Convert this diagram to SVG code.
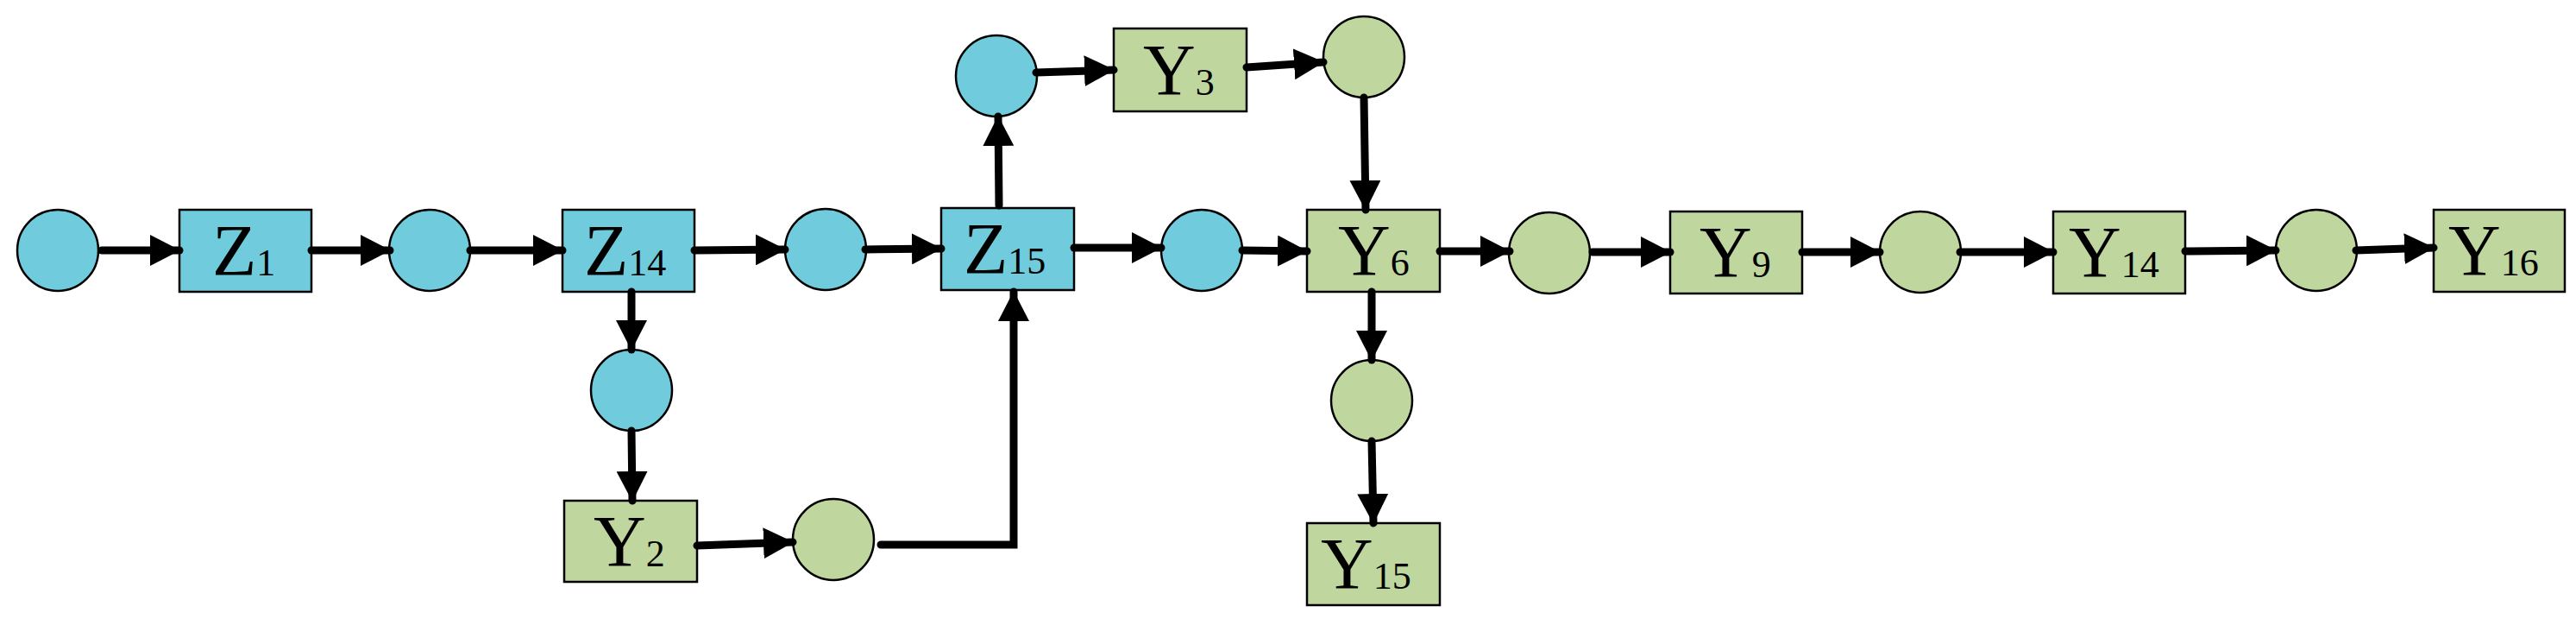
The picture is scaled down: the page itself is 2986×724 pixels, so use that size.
<svg xmlns="http://www.w3.org/2000/svg" width="2986" height="724" viewBox="0 0 2986 724">
<style>
.b{fill:#70CCDC;stroke:#000;stroke-width:2.5}
.g{fill:#BFD79E;stroke:#000;stroke-width:2.5}
.t{font-family:"Liberation Serif",serif;font-size:84px;fill:#000}
.s{font-size:44px}
.c line,.c polyline{stroke:#000;stroke-width:9;fill:none;stroke-linecap:round;marker-end:url(#a)}
</style>
<defs><marker id="a" markerUnits="userSpaceOnUse" markerWidth="36" markerHeight="36" refX="34" refY="18" orient="auto"><path d="M0,0L35,18L0,36Z" fill="#000"/></marker></defs>
<g id="n1"><circle class="b" cx="67" cy="290" r="47"/></g>
<g id="Z1"><rect class="b" x="208" y="243" width="153" height="95"/><text class="t" x="246" y="319">Z<tspan class="s">1</tspan></text></g>
<g id="n2"><circle class="b" cx="498" cy="290" r="47"/></g>
<g id="Z14"><rect class="b" x="652" y="243" width="153" height="95"/><text class="t" x="677" y="319">Z<tspan class="s">14</tspan></text></g>
<g id="n3"><circle class="b" cx="957" cy="289" r="47"/></g>
<g id="Z15"><rect class="b" x="1091" y="241" width="154" height="95"/><text class="t" x="1117" y="317">Z<tspan class="s">15</tspan></text></g>
<g id="n4"><circle class="b" cx="1393" cy="290" r="47"/></g>
<g id="n5"><circle class="b" cx="1155" cy="88" r="47"/></g>
<g id="Y3"><rect class="g" x="1291" y="33" width="154" height="96"/><text class="t" x="1325" y="110">Y<tspan class="s">3</tspan></text></g>
<g id="n6"><circle class="b" cx="732" cy="452" r="47"/></g>
<g id="Y2"><rect class="g" x="654" y="580" width="154" height="94"/><text class="t" x="688" y="656">Y<tspan class="s">2</tspan></text></g>
<g id="n7"><circle class="g" cx="966" cy="625" r="47"/></g>
<g id="n8"><circle class="g" cx="1581" cy="66" r="47"/></g>
<g id="Y6"><rect class="g" x="1515" y="243" width="154" height="95"/><text class="t" x="1551" y="319">Y<tspan class="s">6</tspan></text></g>
<g id="n9"><circle class="g" cx="1796" cy="293" r="47"/></g>
<g id="Y9"><rect class="g" x="1936" y="245" width="153" height="95"/><text class="t" x="1970" y="321">Y<tspan class="s">9</tspan></text></g>
<g id="n10"><circle class="g" cx="2226" cy="292" r="47"/></g>
<g id="Y14"><rect class="g" x="2380" y="245" width="153" height="95"/><text class="t" x="2398" y="321">Y<tspan class="s">14</tspan></text></g>
<g id="n11"><circle class="g" cx="2685" cy="290" r="47"/></g>
<g id="Y16"><rect class="g" x="2821" y="243" width="152" height="95"/><text class="t" x="2838" y="319">Y<tspan class="s">16</tspan></text></g>
<g id="n12"><circle class="g" cx="1590" cy="464" r="47"/></g>
<g id="Y15"><rect class="g" x="1515" y="606" width="154" height="95"/><text class="t" x="1531" y="682">Y<tspan class="s">15</tspan></text></g>
<g id="connectors" class="c">
<line x1="118" y1="290" x2="208" y2="290"/>
<line x1="361" y1="290" x2="452" y2="290"/>
<line x1="545" y1="290" x2="652" y2="290"/>
<line x1="805" y1="290" x2="910" y2="289"/>
<line x1="1003" y1="289" x2="1091" y2="288"/>
<line x1="1245" y1="287" x2="1346" y2="287"/>
<line x1="1440" y1="290" x2="1515" y2="291"/>
<line x1="1158" y1="238" x2="1157" y2="135"/>
<line x1="1201" y1="84" x2="1291" y2="81"/>
<line x1="1445" y1="78" x2="1534" y2="72"/>
<line x1="1581" y1="113" x2="1583" y2="243"/>
<line x1="1669" y1="291" x2="1750" y2="291"/>
<line x1="1846" y1="292" x2="1936" y2="292"/>
<line x1="2089" y1="292" x2="2179" y2="292"/>
<line x1="2272" y1="292" x2="2380" y2="292"/>
<line x1="2533" y1="291" x2="2638" y2="290"/>
<line x1="2731" y1="290" x2="2821" y2="287"/>
<line x1="1590" y1="338" x2="1590" y2="417"/>
<line x1="1590" y1="511" x2="1592" y2="606"/>
<line x1="732" y1="338" x2="732" y2="405"/>
<line x1="732" y1="499" x2="733" y2="580"/>
<line x1="808" y1="632" x2="919" y2="628"/>
<polyline points="1021,631 1175,631 1175,338"/>
</g>
</svg>
